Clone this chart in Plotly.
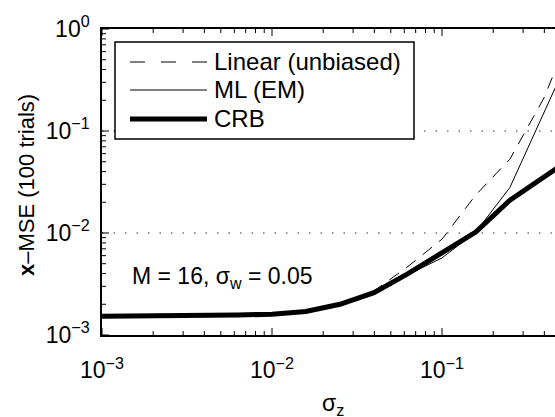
import plotly.graph_objects as go

# ---- data ----
sigma_z = [0.001, 0.00158, 0.00251, 0.00398, 0.00631, 0.01, 0.0158, 0.0251,
           0.0398, 0.0631, 0.1, 0.158, 0.251, 0.398, 0.631]
mse_linear = [0.00153, 0.00153, 0.00154, 0.00155, 0.00157, 0.0016, 0.0017, 0.00205,
              0.0027, 0.0047, 0.0087, 0.0236, 0.053, 0.211, 1.4]
mse_ml = [0.00153, 0.00153, 0.00154, 0.00155, 0.00157, 0.0016, 0.0017, 0.002,
          0.0026, 0.0039, 0.0057, 0.0102, 0.028, 0.153, 0.82]
mse_crb = [0.00153, 0.00153, 0.00154, 0.00155, 0.00157, 0.0016, 0.0017, 0.002,
           0.0026, 0.004, 0.0064, 0.0102, 0.021, 0.0354, 0.0596]

major_vals = [0.001, 0.01, 0.1, 1]
major_text = ["10<sup>\u22123</sup>", "10<sup>\u22122</sup>", "10<sup>\u22121</sup>", "10<sup>0</sup>"]
minor_vals = [m * d for d in [0.001, 0.01, 0.1] for m in range(2, 10)]

series_names = ["Linear (unbiased)", "ML (EM)", "CRB"]

FONT = "Liberation Sans, Arial, Helvetica, sans-serif"

fig = go.Figure()
fig.add_trace(go.Scatter(x=sigma_z, y=mse_linear, mode="lines", name=series_names[0],
                         line=dict(color="black", width=1, dash="12px,9px"), showlegend=False))
fig.add_trace(go.Scatter(x=sigma_z, y=mse_ml, mode="lines", name=series_names[1],
                         line=dict(color="black", width=1), showlegend=False))
fig.add_trace(go.Scatter(x=sigma_z, y=mse_crb, mode="lines", name=series_names[2],
                         line=dict(color="black", width=5), showlegend=False))

W, H = 555, 417
L, R, T, B = 102, 0, 29, 82
pw = W - L - R
ph = H - T - B
decade_px = 170.0
xr = [-3, -3 + pw / decade_px]
x_max = 10 ** xr[1]

def px(xp):
    return (xp - L) / pw

def py(yp):
    return (H - B - yp) / ph

fig.update_layout(
    width=W, height=H,
    margin=dict(l=L, r=R, t=T, b=B, pad=0),
    paper_bgcolor="white", plot_bgcolor="white",
    font=dict(family=FONT, size=23, color="black"),
    showlegend=False,
)
common = dict(
    type="log",
    tickmode="array", tickvals=major_vals, ticktext=major_text,
    ticks="", showline=True, linecolor="black", linewidth=1.5,
    zeroline=False, showgrid=False,
    tickfont=dict(size=23, family=FONT),
)
fig.update_xaxes(range=xr, mirror=True, ticklabelstandoff=14, **common)
fig.update_yaxes(range=[-3, 0], mirror=False, ticklabelstandoff=6, **common)

# dotted horizontal grid at major decades (MATLAB style)
for gv in major_vals[1:3]:
    fig.add_hline(y=gv, line=dict(color="#333333", width=1, dash="1.5px,10px"), layer="below")

# inward tick marks (major and minor) drawn on the axes' own scales
MAJ, MIN = 7, 4
for v in major_vals + minor_vals:
    ln = MAJ if v in major_vals else MIN
    if v <= x_max:
        for y0, y1 in [(0, ln / ph), (1, 1 - ln / ph)]:
            fig.add_shape(type="line", xref="x", yref="y domain", x0=v, x1=v, y0=y0, y1=y1,
                          line=dict(color="black", width=1), layer="above")
    if v <= 1:
        fig.add_shape(type="line", xref="x domain", yref="y", x0=0, x1=ln / pw, y0=v, y1=v,
                      line=dict(color="black", width=1), layer="above")

# axis titles
fig.add_annotation(text="<b>x</b>\u2013MSE (100 trials)", xref="paper", yref="paper",
                   x=px(26), y=py(185), textangle=-90, showarrow=False,
                   xanchor="center", yanchor="middle", font=dict(size=22, family=FONT))
fig.add_annotation(text="\u03c3<sub>z</sub>", xref="paper", yref="paper",
                   x=px(333), y=py(404), showarrow=False,
                   xanchor="center", yanchor="middle", font=dict(size=23, family=FONT))

# in-plot label
fig.add_annotation(text="M = 16, \u03c3<sub>w</sub> = 0.05", xref="paper", yref="paper",
                   x=px(130), y=py(277), showarrow=False,
                   xanchor="left", yanchor="middle", font=dict(size=23, family=FONT))

# legend box (drawn manually to match sample line length)
fig.add_shape(type="rect", xref="paper", yref="paper",
              x0=px(115), x1=px(414), y0=py(139), y1=py(42),
              line=dict(color="black", width=1.5), fillcolor="white", layer="above")
rows_y = [62, 90, 119]
styles = [dict(width=1, dash="15px,16px"), dict(width=1), dict(width=5)]
for name, yy, st in zip(series_names, rows_y, styles):
    fig.add_shape(type="line", xref="paper", yref="paper",
                  x0=px(130), x1=px(207), y0=py(yy), y1=py(yy),
                  line=dict(color="black", **st), layer="above")
    fig.add_annotation(text=name, xref="paper", yref="paper",
                       x=px(212), y=py(yy), showarrow=False,
                       xanchor="left", yanchor="middle", font=dict(size=24, family=FONT))

fig.write_html("out.html")
